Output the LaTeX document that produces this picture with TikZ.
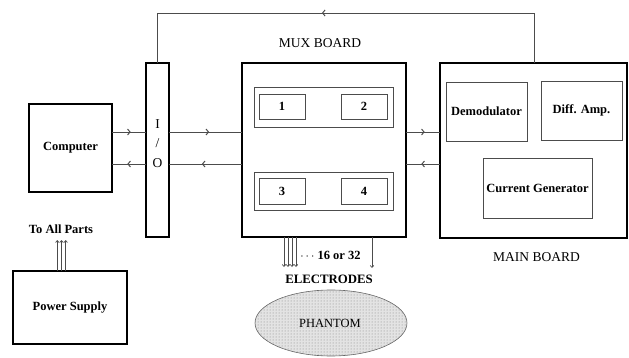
\documentclass[tikz,border=0pt]{standalone}
\usepackage{fontspec}
\setmainfont{Liberation Serif}
\usetikzlibrary{arrows.meta,decorations.markings,shapes.geometric,patterns}
\tikzset{
  board/.style={draw=black,line width=1.6pt,inner sep=0pt,outer sep=0pt},
  subbox/.style={draw=black!70,line width=0.8pt,inner sep=0pt,outer sep=0pt,font=\fontsize{12.5}{15}\selectfont\bfseries},
  plainbox/.style={draw=black,line width=1.4pt,inner sep=0pt,outer sep=0pt,font=\fontsize{12.5}{15}\selectfont\bfseries},
  lbl/.style={inner sep=0pt,font=\fontsize{13.5}{16}\selectfont},
  blbl/.style={inner sep=0pt,font=\fontsize{12.5}{15}\selectfont\bfseries},
  conn/.style={draw=black!70,line width=0.9pt},
  midarrow/.style={conn,postaction={decorate},decoration={markings,mark=at position #1 with {\arrow{Straight Barb[length=2.5pt,width=6pt,line width=1pt]}}}},
  tiparrow/.style={draw=black!70,line width=0.7pt,-{Straight Barb[length=2pt,width=3.5pt]}}
}
\begin{document}
\begin{tikzpicture}[x=1pt,y=-1pt]
\useasboundingbox (0,0) rectangle (629,358);
% main blocks
\node[plainbox,minimum width=83pt,minimum height=88pt] (comp) at (70.5,148) {Computer};
\node[board,minimum width=23pt,minimum height=174pt] (io) at (157.5,150) {};
\node[lbl] (ioI) at (157.5,124) {I};
\node[lbl] (ioS) at (157.5,143) {/};
\node[lbl] (ioO) at (157.5,163) {O};
\node[board,minimum width=164pt,minimum height=174pt] (mux) at (324,150) {};
\node[board,minimum width=187pt,minimum height=175pt] (main) at (533.5,150.5) {};
% mux inner
\node[subbox,minimum width=139pt,minimum height=40pt] (mu) at (323.5,107) {};
\node[subbox,minimum width=46pt,minimum height=25pt] (b1) at (282,106.5) {1};
\node[subbox,minimum width=46pt,minimum height=25pt] (b2) at (364,106.5) {2};
\node[subbox,minimum width=139pt,minimum height=38pt] (ml) at (323.5,191) {};
\node[subbox,minimum width=46pt,minimum height=26pt] (b3) at (282,191) {3};
\node[subbox,minimum width=46pt,minimum height=26pt] (b4) at (364,191) {4};
% main inner
\node[subbox,minimum width=81pt,minimum height=59pt] (demod) at (486.5,111.5) {Demodulator};
\node[subbox,minimum width=81pt,minimum height=59pt] (diff) at (581.5,110.5) {Diff. Amp.};
\node[subbox,minimum width=109pt,minimum height=60pt] (cg) at (537.5,188) {Current Generator};
% power
\node[plainbox,minimum width=114pt,minimum height=73pt] (pow) at (70,307.5) {Power Supply};
\node[blbl] (allparts) at (61,229) {To All Parts};
% phantom
\node[ellipse,draw=black!60,line width=0.6pt,preaction={fill=gray!22},pattern=dots,pattern color=black!50,minimum width=152pt,minimum height=66pt,inner sep=0pt] (ph) at (331,323) {};
\node[lbl,font=\fontsize{12.5}{15}\selectfont] (phl) at (330,323) {PHANTOM};
% labels
\node[lbl] (muxl) at (320,43) {MUX BOARD};
\node[lbl] (mainl) at (536.5,257) {MAIN BOARD};
\node[blbl,font=\fontsize{12.8}{15}\selectfont\bfseries] (el) at (329,279) {ELECTRODES};
\node[blbl] (num) at (330.5,255) {$\cdots$ 16 or 32};
% row coordinates
\coordinate (ru) at (0,132);
\coordinate (rl) at (0,164);
% connectors
\draw[midarrow=0.55] (comp.east |- ru) -- (io.west |- ru);
\draw[midarrow=0.55] (io.west |- rl) -- (comp.east |- rl);
\draw[midarrow=0.55] (io.east |- ru) -- (mux.west |- ru);
\draw[midarrow=0.55] (mux.west |- rl) -- (io.east |- rl);
\draw[midarrow=0.55] (mux.east |- ru) -- (main.west |- ru);
\draw[midarrow=0.55] (main.west |- rl) -- (mux.east |- rl);
\coordinate (tr) at (534,13);
\coordinate (tl) at (157.5,13);
\draw[midarrow=0.55] (main.north -| tr) -- (tr) -- (tl) -- (io.north);
% electrodes
\foreach \x [count=\i] in {284,288,292,296}{
  \coordinate (e\i) at (\x,267);
  \draw[tiparrow] (mux.south -| e\i) -- (e\i);
}
\coordinate (e5) at (372,268);
\draw[tiparrow] (mux.south -| e5) -- (e5);
% power lines
\foreach \x [count=\i] in {57.3,61.5,65.7}{
  \coordinate (p\i) at (\x,240);
  \draw[tiparrow] (pow.north -| p\i) -- (p\i);
}
\end{tikzpicture}
\end{document}
